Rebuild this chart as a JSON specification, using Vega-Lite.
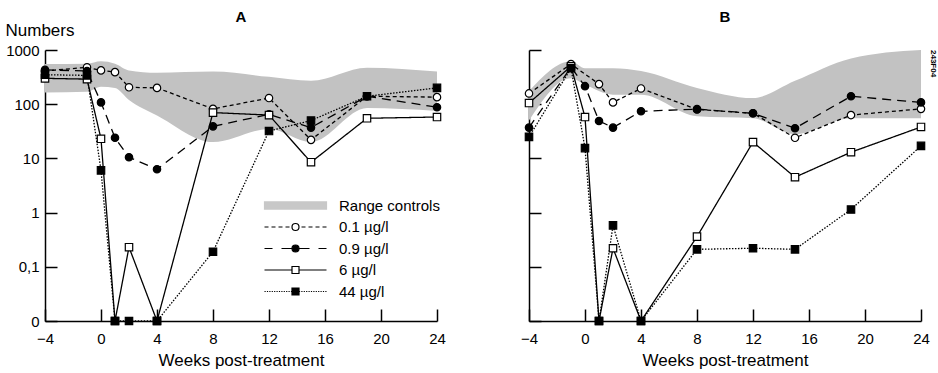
{
  "$schema": "https://vega.github.io/schema/vega-lite/v6.json",
  "background": "white",
  "padding": {"left": 5, "top": 10, "right": 0, "bottom": 2},
  "bounds": "flush",
  "spacing": 92,
  "title": {"text": "243F04", "orient": "right", "anchor": "start", "angle": 90, "fontSize": 8, "fontWeight": "bold", "offset": 0, "frame": "group", "color": "black"},
  "config": {
    "view": {"stroke": null},
    "font": "Liberation Sans",
    "axis": {
      "grid": false,
      "domainColor": "black",
      "domainWidth": 1.5,
      "tickColor": "black",
      "tickWidth": 1.5,
      "tickSize": -12,
      "labelFont": "Liberation Sans",
      "labelFontSize": 15,
      "labelColor": "black",
      "labelFlush": false,
      "titleFont": "Liberation Sans",
      "titleFontSize": 17,
      "titleFontWeight": "normal",
      "titleColor": "black"
    }
  },
  "datasets": {
    "bandA": [
      {"week": -4, "lo": 165, "hi": 550},
      {"week": -1, "lo": 170, "hi": 560},
      {"week": 0, "lo": 210, "hi": 620},
      {"week": 1, "lo": 200, "hi": 560},
      {"week": 2, "lo": 120, "hi": 420},
      {"week": 4, "lo": 62, "hi": 380},
      {"week": 8, "lo": 20, "hi": 400},
      {"week": 12, "lo": 35, "hi": 320},
      {"week": 15, "lo": 20, "hi": 270},
      {"week": 19, "lo": 85, "hi": 470},
      {"week": 24, "lo": 75, "hi": 400}
    ],
    "bandB": [
      {"week": -4, "lo": 50, "hi": 175},
      {"week": -1, "lo": 300, "hi": 620},
      {"week": 0, "lo": 230, "hi": 460},
      {"week": 2, "lo": 150, "hi": 460},
      {"week": 4, "lo": 150, "hi": 410},
      {"week": 8, "lo": 60, "hi": 200},
      {"week": 12, "lo": 55, "hi": 130},
      {"week": 15, "lo": 28, "hi": 270},
      {"week": 19, "lo": 55, "hi": 700},
      {"week": 24, "lo": 55, "hi": 1000}
    ],
    "obsA": [
      {"series": "0.1 µg/l", "week": -4, "value": 410},
      {"series": "0.1 µg/l", "week": -1, "value": 480},
      {"series": "0.1 µg/l", "week": 0, "value": 420},
      {"series": "0.1 µg/l", "week": 1, "value": 390},
      {"series": "0.1 µg/l", "week": 2, "value": 205},
      {"series": "0.1 µg/l", "week": 4, "value": 200},
      {"series": "0.1 µg/l", "week": 8, "value": 82},
      {"series": "0.1 µg/l", "week": 12, "value": 130},
      {"series": "0.1 µg/l", "week": 15, "value": 22},
      {"series": "0.1 µg/l", "week": 19, "value": 140},
      {"series": "0.1 µg/l", "week": 24, "value": 135},
      {"series": "0.9 µg/l", "week": -4, "value": 430},
      {"series": "0.9 µg/l", "week": -1, "value": 410},
      {"series": "0.9 µg/l", "week": 0, "value": 108},
      {"series": "0.9 µg/l", "week": 1, "value": 24},
      {"series": "0.9 µg/l", "week": 2, "value": 10.5},
      {"series": "0.9 µg/l", "week": 4, "value": 6.3},
      {"series": "0.9 µg/l", "week": 8, "value": 39},
      {"series": "0.9 µg/l", "week": 12, "value": 65},
      {"series": "0.9 µg/l", "week": 15, "value": 37},
      {"series": "0.9 µg/l", "week": 19, "value": 140},
      {"series": "0.9 µg/l", "week": 24, "value": 88},
      {"series": "6 µg/l", "week": -4, "value": 300},
      {"series": "6 µg/l", "week": -1, "value": 290},
      {"series": "6 µg/l", "week": 0, "value": 23},
      {"series": "6 µg/l", "week": 1, "value": 0.01},
      {"series": "6 µg/l", "week": 2, "value": 0.23},
      {"series": "6 µg/l", "week": 4, "value": 0.01},
      {"series": "6 µg/l", "week": 8, "value": 70},
      {"series": "6 µg/l", "week": 12, "value": 63},
      {"series": "6 µg/l", "week": 15, "value": 8.5},
      {"series": "6 µg/l", "week": 19, "value": 55},
      {"series": "6 µg/l", "week": 24, "value": 58},
      {"series": "44 µg/l", "week": -4, "value": 350},
      {"series": "44 µg/l", "week": -1, "value": 340},
      {"series": "44 µg/l", "week": 0, "value": 6},
      {"series": "44 µg/l", "week": 1, "value": 0.01},
      {"series": "44 µg/l", "week": 2, "value": 0.01},
      {"series": "44 µg/l", "week": 4, "value": 0.01},
      {"series": "44 µg/l", "week": 8, "value": 0.19},
      {"series": "44 µg/l", "week": 12, "value": 32},
      {"series": "44 µg/l", "week": 15, "value": 50},
      {"series": "44 µg/l", "week": 19, "value": 140},
      {"series": "44 µg/l", "week": 24, "value": 200}
    ],
    "obsB": [
      {"series": "0.1 µg/l", "week": -4, "value": 158},
      {"series": "0.1 µg/l", "week": -1, "value": 550},
      {"series": "0.1 µg/l", "week": 1, "value": 235},
      {"series": "0.1 µg/l", "week": 2, "value": 108},
      {"series": "0.1 µg/l", "week": 4, "value": 195},
      {"series": "0.1 µg/l", "week": 8, "value": 80},
      {"series": "0.1 µg/l", "week": 12, "value": 68},
      {"series": "0.1 µg/l", "week": 15, "value": 24},
      {"series": "0.1 µg/l", "week": 19, "value": 63},
      {"series": "0.1 µg/l", "week": 24, "value": 82},
      {"series": "0.9 µg/l", "week": -4, "value": 37},
      {"series": "0.9 µg/l", "week": -1, "value": 480},
      {"series": "0.9 µg/l", "week": 0, "value": 215},
      {"series": "0.9 µg/l", "week": 1, "value": 49},
      {"series": "0.9 µg/l", "week": 2, "value": 37},
      {"series": "0.9 µg/l", "week": 4, "value": 74},
      {"series": "0.9 µg/l", "week": 8, "value": 81},
      {"series": "0.9 µg/l", "week": 12, "value": 68},
      {"series": "0.9 µg/l", "week": 15, "value": 36},
      {"series": "0.9 µg/l", "week": 19, "value": 140},
      {"series": "0.9 µg/l", "week": 24, "value": 108},
      {"series": "6 µg/l", "week": -4, "value": 105},
      {"series": "6 µg/l", "week": -1, "value": 500},
      {"series": "6 µg/l", "week": 0, "value": 58},
      {"series": "6 µg/l", "week": 1, "value": 0.01},
      {"series": "6 µg/l", "week": 2, "value": 0.22},
      {"series": "6 µg/l", "week": 4, "value": 0.01},
      {"series": "6 µg/l", "week": 8, "value": 0.36},
      {"series": "6 µg/l", "week": 12, "value": 20},
      {"series": "6 µg/l", "week": 15, "value": 4.5},
      {"series": "6 µg/l", "week": 19, "value": 13},
      {"series": "6 µg/l", "week": 24, "value": 38},
      {"series": "44 µg/l", "week": -4, "value": 25},
      {"series": "44 µg/l", "week": -1, "value": 460},
      {"series": "44 µg/l", "week": 0, "value": 15.5},
      {"series": "44 µg/l", "week": 1, "value": 0.01},
      {"series": "44 µg/l", "week": 2, "value": 0.58},
      {"series": "44 µg/l", "week": 4, "value": 0.01},
      {"series": "44 µg/l", "week": 8, "value": 0.21},
      {"series": "44 µg/l", "week": 12, "value": 0.22},
      {"series": "44 µg/l", "week": 15, "value": 0.21},
      {"series": "44 µg/l", "week": 19, "value": 1.14},
      {"series": "44 µg/l", "week": 24, "value": 17}
    ]
  },
  "hconcat": [
    {
      "width": 392,
      "height": 271,
      "title": {"text": "A", "fontSize": 15, "fontWeight": "bold", "frame": "group", "anchor": "middle", "baseline": "alphabetic", "offset": -16, "color": "black"},
      "layer": [
        {
          "data": {"name": "bandA"},
          "mark": {"type": "area", "color": "#c2c2c2", "interpolate": "monotone"},
          "encoding": {
            "x": {"field": "week", "type": "quantitative", "scale": {"domain": [-4, 24], "nice": false},
              "axis": {"values": [-4, -2, 0, 2, 4, 6, 8, 10, 12, 14, 16, 18, 20, 22, 24], "labelExpr": "datum.value % 4 == 0 ? datum.label : ''", "title": "Weeks post-treatment", "labelPadding": 22, "titlePadding": 6}},
            "y": {"field": "hi", "type": "quantitative", "scale": {"type": "log", "domain": [0.01, 1000], "nice": false},
              "axis": {"values": [0.01, 0.1, 1, 10, 100, 1000], "labelExpr": "datum.value < 0.05 ? '0' : datum.value < 0.5 ? '0,1' : format(datum.value, 'd')", "title": "Numbers", "titleAngle": 0, "titleAlign": "left", "titleBaseline": "middle", "titleX": -40, "titleY": -20, "labelPadding": 18}},
            "y2": {"field": "lo"}
          }
        },
        {
          "data": {"name": "obsA"},
          "mark": {"type": "line", "color": "black", "strokeWidth": 1.3},
          "encoding": {
            "x": {"field": "week", "type": "quantitative"},
            "y": {"field": "value", "type": "quantitative"},
            "strokeDash": {"field": "series", "type": "nominal", "legend": null,
              "scale": {"domain": ["0.1 µg/l", "0.9 µg/l", "6 µg/l", "44 µg/l"], "range": [[4, 3], [9, 6], [1, 0], [1.5, 1.5]]}}
          }
        },
        {
          "data": {"name": "obsA"},
          "mark": {"type": "point", "filled": true, "stroke": "black", "strokeWidth": 1.2, "size": 55, "opacity": 1},
          "encoding": {
            "x": {"field": "week", "type": "quantitative"},
            "y": {"field": "value", "type": "quantitative"},
            "shape": {"condition": {"test": "datum.series == '6 µg/l' || datum.series == '44 µg/l'", "value": "square"}, "value": "circle"},
            "fill": {"condition": {"test": "datum.series == '0.9 µg/l' || datum.series == '44 µg/l'", "value": "black"}, "value": "white"}
          }
        },
        {
          "data": {"values": []},
          "mark": {"type": "point", "filled": false, "opacity": 1},
          "encoding": {
            "shape": {"field": "series", "type": "nominal",
              "scale": {
                "domain": ["Range controls", "0.1 µg/l", "0.9 µg/l", "6 µg/l", "44 µg/l"],
                "range": [
                  "M-7.75,-0.9H7.75V0.9H-7.75Z",
                  "M-7.75,0H-6.75M-6,0H-5M-4.25,0H-3.25M-2.5,0H-1.5M1.5,0H2.5M3.25,0H4.25M5,0H6M6.75,0H7.75M0.875,0A0.875,0.875,0,1,1,-0.875,0A0.875,0.875,0,1,1,0.875,0Z",
                  "M-7.75,0H-5.75M-3.5,0H-0.875M0.875,0H3.5M5.75,0H7.75M0.875,0A0.875,0.875,0,1,1,-0.875,0A0.875,0.875,0,1,1,0.875,0Z",
                  "M-7.75,0H-0.875M0.875,0H7.75M-0.875,-0.875H0.875V0.875H-0.875Z",
                  "M-7.75,0H-7.45M-7.15,0H-6.85M-6.55,0H-6.25M-5.95,0H-5.65M-5.35,0H-5.05M-4.75,0H-4.45M-4.15,0H-3.85M-3.55,0H-3.25M-2.95,0H-2.65M-2.35,0H-2.05M-1.75,0H-1.45M-1.15,0H-0.875M0.875,0H1.15M1.45,0H1.75M2.05,0H2.35M2.65,0H2.95M3.25,0H3.55M3.85,0H4.15M4.45,0H4.75M5.05,0H5.35M5.65,0H5.95M6.25,0H6.55M6.85,0H7.15M7.45,0H7.75M-0.875,-0.875H0.875V0.875H-0.875Z"
                ]
              },
              "legend": {
                "title": null,
                "orient": "none",
                "legendX": 217,
                "legendY": 148,
                "padding": 0,
                "symbolSize": 64,
                "symbolStrokeWidth": 1.2,
                "symbolOpacity": 1,
                "symbolOffset": 26,
                "labelOffset": 36,
                "rowPadding": 5.5,
                "labelFont": "Liberation Sans",
                "labelFontSize": 15,
                "labelColor": "black",
                "labelLimit": 300
              }
            },
            "fill": {"field": "series", "type": "nominal",
              "scale": {"domain": ["Range controls", "0.1 µg/l", "0.9 µg/l", "6 µg/l", "44 µg/l"], "range": ["#c8c8c8", "white", "black", "white", "black"]}},
            "stroke": {"field": "series", "type": "nominal",
              "scale": {"domain": ["Range controls", "0.1 µg/l", "0.9 µg/l", "6 µg/l", "44 µg/l"], "range": ["#c8c8c8", "black", "black", "black", "black"]}}
          }
        }
      ]
    },
    {
      "width": 392,
      "height": 271,
      "title": {"text": "B", "fontSize": 15, "fontWeight": "bold", "frame": "group", "anchor": "middle", "baseline": "alphabetic", "offset": 12, "color": "black"},
      "layer": [
        {
          "data": {"name": "bandB"},
          "mark": {"type": "area", "color": "#c2c2c2", "interpolate": "monotone"},
          "encoding": {
            "x": {"field": "week", "type": "quantitative", "scale": {"domain": [-4, 24], "nice": false},
              "axis": {"values": [-4, -2, 0, 2, 4, 6, 8, 10, 12, 14, 16, 18, 20, 22, 24], "labelExpr": "datum.value % 4 == 0 ? datum.label : ''", "title": "Weeks post-treatment", "labelPadding": 22, "titlePadding": 6}},
            "y": {"field": "hi", "type": "quantitative", "scale": {"type": "log", "domain": [0.01, 1000], "nice": false},
              "axis": {"values": [0.01, 0.1, 1, 10, 100, 1000], "labels": false, "title": null}},
            "y2": {"field": "lo"}
          }
        },
        {
          "data": {"name": "obsB"},
          "mark": {"type": "line", "color": "black", "strokeWidth": 1.3},
          "encoding": {
            "x": {"field": "week", "type": "quantitative"},
            "y": {"field": "value", "type": "quantitative"},
            "strokeDash": {"field": "series", "type": "nominal", "legend": null,
              "scale": {"domain": ["0.1 µg/l", "0.9 µg/l", "6 µg/l", "44 µg/l"], "range": [[4, 3], [9, 6], [1, 0], [1.5, 1.5]]}}
          }
        },
        {
          "data": {"name": "obsB"},
          "mark": {"type": "point", "filled": true, "stroke": "black", "strokeWidth": 1.2, "size": 55, "opacity": 1},
          "encoding": {
            "x": {"field": "week", "type": "quantitative"},
            "y": {"field": "value", "type": "quantitative"},
            "shape": {"condition": {"test": "datum.series == '6 µg/l' || datum.series == '44 µg/l'", "value": "square"}, "value": "circle"},
            "fill": {"condition": {"test": "datum.series == '0.9 µg/l' || datum.series == '44 µg/l'", "value": "black"}, "value": "white"}
          }
        }
      ]
    }
  ]
}
